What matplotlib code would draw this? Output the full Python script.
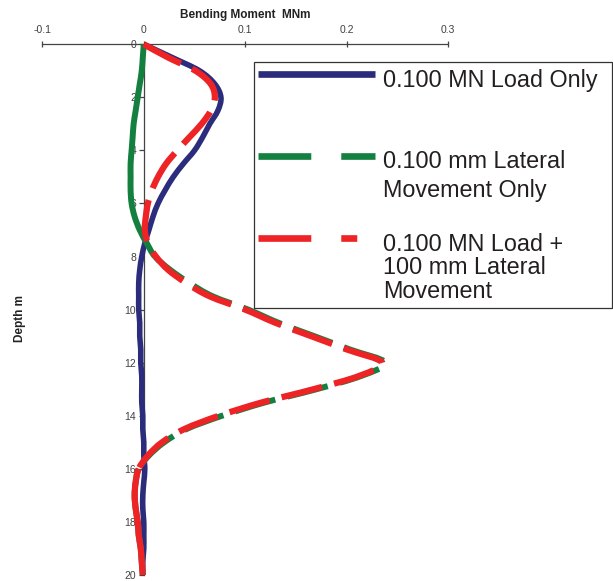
import numpy as np
import matplotlib.pyplot as plt
from matplotlib.lines import Line2D
from matplotlib.patches import Rectangle, PathPatch
from matplotlib.path import Path

plt.rcParams['font.family'] = ['Liberation Sans', 'DejaVu Sans']
plt.rcParams['lines.scale_dashes'] = False

# depth down the pile (m)
depth = [0.0, 0.5, 1.0, 1.5, 2.0, 2.5, 3.0, 3.5, 4.0, 4.5,
         5.0, 5.5, 6.0, 6.5, 7.0, 7.5, 8.0, 8.5, 9.0, 9.5,
         10.0, 10.5, 11.0, 11.5, 12.0, 12.5, 13.0, 13.5, 14.0, 14.5,
         15.0, 15.5, 16.0, 16.5, 17.0, 17.5, 18.0, 18.5, 19.0, 19.5, 20.0]

# bending moment (MNm) for each case
load_only = [0.000, 0.028, 0.055, 0.070, 0.076, 0.073, 0.065, 0.058, 0.050, 0.039,
             0.029, 0.021, 0.014, 0.009, 0.005, 0.001, -0.002, -0.004, -0.005, -0.005,
             -0.005, -0.004, -0.004, -0.003, -0.003, -0.002, -0.002, -0.002, -0.001, -0.001,
             0.000, 0.000, 0.001, 0.000, -0.001, -0.001, 0.000, 0.000, 0.000, -0.001, -0.001]

lateral_only = [0.000, -0.001, -0.002, -0.004, -0.006, -0.008, -0.010, -0.011, -0.012, -0.013,
                -0.013, -0.013, -0.012, -0.009, -0.004, 0.003, 0.011, 0.026, 0.045, 0.068,
                0.103, 0.133, 0.168, 0.203, 0.238, 0.214, 0.170, 0.119, 0.077, 0.042,
                0.020, 0.005, -0.005, -0.008, -0.009, -0.008, -0.006, -0.005, -0.003, -0.002, -0.001]

combined = [0.000, 0.024, 0.051, 0.066, 0.070, 0.066, 0.057, 0.045, 0.033, 0.022,
            0.014, 0.008, 0.004, 0.002, 0.001, 0.004, 0.012, 0.024, 0.042, 0.065,
            0.100, 0.130, 0.165, 0.200, 0.235, 0.212, 0.167, 0.116, 0.074, 0.040,
            0.018, 0.004, -0.005, -0.008, -0.009, -0.008, -0.006, -0.005, -0.003, -0.002, -0.001]

labels = ['0.100 MN Load Only',
          '0.100 mm Lateral\nMovement Only',
          '0.100 MN Load +\n100 mm Lateral\nMovement']

navy = '#2b2c7c'
green = '#138040'
red = '#ee2326'
dash = (30, 9)


def smooth_verts(x, y):
    # Catmull-Rom curve through the points, as cubic bezier vertices
    x = np.asarray(x, float)
    y = np.asarray(y, float)
    n = len(x)
    verts = [(x[0], y[0])]
    for i in range(n - 1):
        a = max(i - 1, 0)
        b = min(i + 2, n - 1)
        verts.append((x[i] + (x[i + 1] - x[a]) / 6, y[i] + (y[i + 1] - y[a]) / 6))
        verts.append((x[i + 1] - (x[b] - x[i]) / 6, y[i + 1] - (y[b] - y[i]) / 6))
        verts.append((x[i + 1], y[i + 1]))
    return np.array(verts)


def curve(verts):
    codes = [Path.MOVETO] + [Path.CURVE4] * (len(verts) - 1)
    return Path(verts, codes)


def curve_length(verts, trans):
    # length in points of a bezier chain once drawn
    v = trans.transform(verts)
    t = np.linspace(0, 1, 30)[:, None]
    total = 0.0
    for i in range(0, len(v) - 1, 3):
        p0, p1, p2, p3 = v[i:i + 4]
        b = (1 - t) ** 3 * p0 + 3 * (1 - t) ** 2 * t * p1 + 3 * (1 - t) * t ** 2 * p2 + t ** 3 * p3
        total += np.hypot(*np.diff(b, axis=0).T).sum()
    return total * 72 / fig.dpi


def add_curve(verts, color, lw, z, ls='solid'):
    ax.add_patch(PathPatch(curve(verts), fill=False, edgecolor=color, lw=lw, linestyle=ls,
                           capstyle='butt', zorder=z, clip_on=False))


fig = plt.figure(figsize=(6.13, 5.81), dpi=100)
ax = fig.add_axes([0.069, 0.0103, 0.6623, 0.9135])
ax.set_xlim(-0.1, 0.3)
ax.set_ylim(20, 0)

# axes: x along the top, depth axis through zero moment
for s in ['bottom', 'right']:
    ax.spines[s].set_visible(False)
ax.spines['left'].set_position(('data', 0))
for s in ['left', 'top']:
    ax.spines[s].set_color('#444444')
    ax.spines[s].set_linewidth(0.9)
ax.xaxis.tick_top()
ax.xaxis.set_label_position('top')
ax.set_xticks([-0.1, 0, 0.1, 0.2, 0.3])
ax.set_xticklabels(['-0.1', '0', '0.1', '0.2', '0.3'])
ax.set_yticks(range(0, 21, 2))
ax.tick_params(axis='x', direction='inout', length=4, width=0.9, pad=5,
               labelsize=7.5, color='#444444', labelcolor='#404040')
ax.tick_params(axis='y', direction='out', length=3.5, width=0.9, pad=2,
               labelsize=7.5, color='#444444', labelcolor='#404040')
ax.set_xlabel('Bending Moment  MNm', fontsize=8.5, fontweight='bold', labelpad=5, color='#222222')
ax.set_ylabel('Depth m', fontsize=8.5, fontweight='bold', color='#222222')
ax.yaxis.set_label_coords(-0.04, 0.484)

blue_v = smooth_verts(load_only, depth)
green_v = smooth_verts(lateral_only, depth)
red_v = smooth_verts(combined, depth)

add_curve(blue_v, navy, 4, 3)

# the two lateral cases run together between k and m: dash them in step,
# solid above k (lateral only) and below m (both)
k, m = 16, 32
add_curve(green_v[:3 * k + 1], green, 4.3, 4)
offset = curve_length(red_v[:3 * k + 1], ax.transData)
add_curve(green_v[3 * k:3 * m + 1], green, 4.3, 4.5, (offset, dash))
add_curve(green_v[3 * m:], green, 4.3, 4.5)
add_curve(red_v[:3 * m + 1], red, 4.5, 5, (0, dash))
add_curve(red_v[3 * m:], red, 4.5, 5)

# legend box
fig.add_artist(Rectangle((0.4144, 0.4699), 0.584, 0.4234, transform=fig.transFigure,
                         facecolor='white', edgecolor='#333333', lw=0.9, zorder=10))
hx = [0.4209, 0.6117]
fig.add_artist(Line2D(hx, [0.8726, 0.8726], transform=fig.transFigure, color=navy,
                      lw=4.8, solid_capstyle='butt', zorder=11))
fig.add_artist(Line2D(hx, [0.7315, 0.7315], transform=fig.transFigure, color=green,
                      lw=4.8, linestyle=(0, (38, 21.6)), dash_capstyle='butt', zorder=11))
fig.add_artist(Line2D(hx, [0.5909, 0.5909], transform=fig.transFigure, color=red,
                      lw=4.8, linestyle=(0, (38, 21.6, 11.5, 30)), dash_capstyle='butt', zorder=11))
tx = 0.6248
fig.text(tx, 0.8611, labels[0], fontsize=16.8, va='center', color='#231f20', zorder=12)
fig.text(tx, 1 - 176 / 581, labels[1], fontsize=16.8, va='center', linespacing=1.3,
         color='#231f20', zorder=12)
fig.text(tx, 1 - 268 / 581, labels[2], fontsize=16.8, va='center', linespacing=1.05,
         color='#231f20', zorder=12)

fig.savefig('out.png', dpi=100)
